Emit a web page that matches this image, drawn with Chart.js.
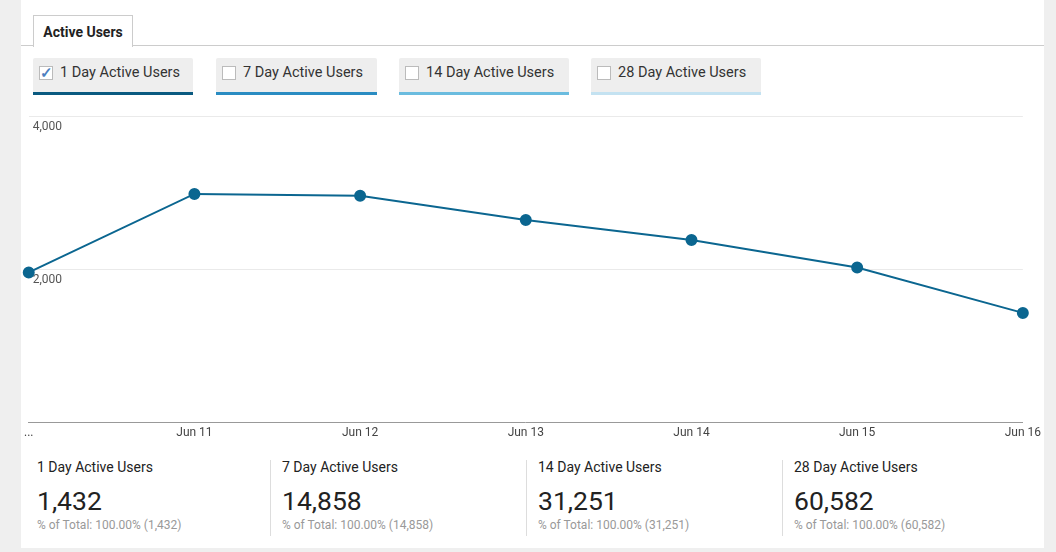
<!DOCTYPE html>
<html>
<head>
<meta charset="utf-8">
<script src="https://cdn.jsdelivr.net/npm/chart.js@4"></script>
<style>
  body { margin:0; background:#efefef; font-family: Roboto, "Noto Sans", sans-serif; }
  #panel { position:absolute; left:21px; top:0; width:1023px; height:548px; background:#fff; }
  #tabline { position:absolute; left:0; top:45px; width:1023px; height:1px; background:#ccc; }
  #tab { position:absolute; left:12px; top:15px; width:98px; border:1px solid #ccc; border-bottom:none;
         background:#fff; font-weight:bold; font-size:14px; color:#222; line-height:32px; text-align:center; z-index:2; height:31px; }
  .btn { position:absolute; top:58px; height:34px; background:#eeeeee; border-radius:2px 2px 0 0; font-size:14.5px; color:#333; line-height:30px; }
  .btn .box { position:absolute; left:6px; top:8px; width:12px; height:12px; border:1px solid #bbb; background:#fff; }
  .btn .lbl { position:absolute; left:27px; top:0; }
  .btn .ck { position:absolute; left:0px; top:-9px; font-size:15px; color:#4d7fbf; font-weight:bold; }
  #chartwrap { position:absolute; left:0; top:105px; width:1023px; height:338px; }
  .stat { position:absolute; top:459px; height:80px; }
  .stat .t { font-size:14px; color:#222; }
  .stat .v { font-size:26.5px; color:#222; margin-top:10px; line-height:32px; }
  .stat .p { font-size:12px; color:#999; margin-top:1px; }
  .sep { position:absolute; top:460px; width:1px; height:76px; background:#ddd; }
</style>
</head>
<body>
<div id="panel">
  <div id="tabline"></div>
  <div id="tab">Active Users</div>
  <div id="buttons"></div>
  <div id="chartwrap"><canvas id="chart"></canvas></div>
  <div id="stats"></div>
</div>
<script>
const categories = ['...', 'Jun 11', 'Jun 12', 'Jun 13', 'Jun 14', 'Jun 15', 'Jun 16'];
const oneDayUsers = [1960, 2985, 2960, 2645, 2385, 2025, 1432];
const yTicks = [2000, 4000];

const metricNames = ['1 Day Active Users', '7 Day Active Users', '14 Day Active Users', '28 Day Active Users'];
const metricTotals = [1432, 14858, 31251, 60582];
const metricColors = ['#0a5a80', '#2a8cc2', '#6bbcdf', '#c4e2f1'];

// buttons over the chart
const btnLeft = [12, 195, 378, 570];
const btnWidth = [160, 161, 170, 170];
let bHtml = '';
for (let i = 0; i < metricNames.length; i++) {
  bHtml += `<div class="btn" style="left:${btnLeft[i]}px;width:${btnWidth[i]}px;border-bottom:3px solid ${metricColors[i]}">
    <div class="box">${i == 0 ? '<span class="ck">✓</span>' : ''}</div><div class="lbl">${metricNames[i]}</div></div>`;
}
document.getElementById('buttons').innerHTML = bHtml;

// summary row
const statLeft = [16, 261, 517, 773];
let sHtml = '';
for (let i = 0; i < metricNames.length; i++) {
  let n = metricTotals[i].toLocaleString('en-US');
  if (i > 0) sHtml += `<div class="sep" style="left:${statLeft[i] - 12}px"></div>`;
  sHtml += `<div class="stat" style="left:${statLeft[i]}px"><div class="t">${metricNames[i]}</div>
    <div class="v">${n}</div><div class="p">% of Total: 100.00% (${n})</div></div>`;
}
document.getElementById('stats').innerHTML = sHtml;

const ctx = document.getElementById('chart').getContext('2d');
new Chart(ctx, {
  type: 'line',
  data: {
    labels: categories,
    datasets: [{
      label: '1 Day Active Users',
      data: oneDayUsers,
      borderColor: '#0b6690',
      backgroundColor: '#0b6690',
      borderWidth: 2,
      pointRadius: 5,
      pointBackgroundColor: '#0b6690',
      tension: 0,
      fill: false
    }]
  },
  options: {
    responsive: true,
    maintainAspectRatio: false,
    animation: false,
    layout: { padding: { left: 7, right: 20, top: 11, bottom: 0 } },
    plugins: { legend: { display: false }, tooltip: { enabled: false } },
    scales: {
      x: {
        grid: { display: false, drawTicks: false },
        border: { display: true, color: '#999', width: 1 },
        ticks: { autoSkip: false, maxRotation: 0, padding: 3, color: '#444', font: { family: 'Roboto', size: 12 } }
      },
      y: {
        min: 0, max: 4000,
        afterBuildTicks: (s) => { s.ticks = yTicks.map(v => ({ value: v })); },
        afterFit: (s) => { s.width = 0; },
        grid: { color: '#eaeaea', drawTicks: false },
        border: { display: false },
        ticks: {
          mirror: true, labelOffset: 11, padding: 4, color: '#555',
          font: { family: 'Roboto', size: 12 },
          callback: (v) => v.toLocaleString('en-US')
        }
      }
    }
  }
});
</script>
</body>
</html>
